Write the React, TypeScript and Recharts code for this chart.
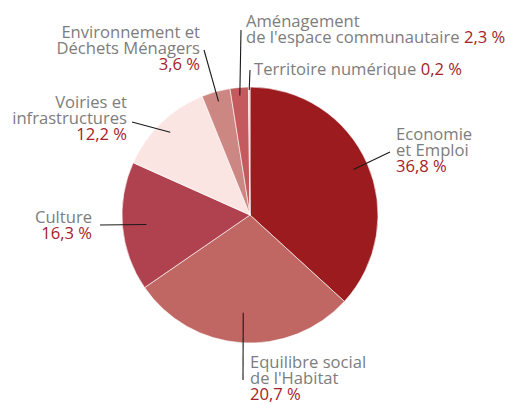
import { PieChart, Pie, Cell } from 'recharts'

// Drawn shares (the Habitat slice is drawn larger than its printed 20,7 %)
const sectors = [
  'Economie et Emploi',
  "Equilibre social de l'Habitat",
  'Culture',
  'Voiries et infrastructures',
  'Environnement et Déchets Ménagers',
  "Aménagement de l'espace communautaire",
  'Territoire numérique',
]
const shares = [36.8, 28.6, 16.3, 12.2, 3.6, 2.3, 0.2]
const pctLabels = ['36,8 %', '20,7 %', '16,3 %', '12,2 %', '3,6 %', '2,3 %', '0,2 %']
const nameLines = [
  ['Economie', 'et Emploi'],
  ['Equilibre social', "de l'Habitat"],
  ['Culture'],
  ['Voiries et', 'infrastructures'],
  ['Environnement et', 'Déchets Ménagers'],
  ['Aménagement', "de l'espace communautaire"],
  ['Territoire numérique'],
]

const colors = ['#9c1b1f', '#c06763', '#b0424f', '#fae5e3', '#cd8783', '#c45a5d', '#f2c4c4']

// label placement, relative to the pie centre
const layout = [
  { rIn: 113, end: [140, -63], tx: 146, ty: -75, anchor: 'start', inline: false },
  { rIn: 98, end: [-7, 165], tx: 0, ty: 153, anchor: 'start', inline: false },
  { rIn: 104, end: [-150, 10], tx: -158, ty: 8, anchor: 'end', inline: false },
  { rIn: 115, end: [-118, -93], tx: -123, ty: -107, anchor: 'end', inline: false },
  { rIn: 118, end: [-46, -165], tx: -50, ty: -177, anchor: 'end', inline: false },
  { rIn: 120, end: [-9, -185], tx: -4, ty: -188, anchor: 'start', inline: true },
  { rIn: 125, end: [0, -145], tx: 4, ty: -140, anchor: 'start', inline: true },
]

const data = sectors.map((name, i) => ({ name, value: shares[i] }))

const GRAY = '#7d7d7d'
const RED = '#a5222a'
const LINE_H = 16
const RAD = Math.PI / 180

function renderLabel(props: any) {
  const { cx, cy, midAngle, index } = props
  const l = layout[index]
  const sx = cx + l.rIn * Math.cos(-midAngle * RAD)
  const sy = cy + l.rIn * Math.sin(-midAngle * RAD)
  const lines = nameLines[index]
  return (
    <g key={`lbl-${index}`}>
      <line x1={sx} y1={sy} x2={cx + l.end[0]} y2={cy + l.end[1]} stroke="#1a1a1a" strokeWidth={1.1} />
      <text
        x={cx + l.tx}
        y={cy + l.ty}
        textAnchor={l.anchor}
        fontFamily="'Open Sans', sans-serif"
        fontSize={16.6}
        fill={GRAY}
      >
        {lines.map((s, j) => (
          <tspan key={j} x={cx + l.tx} dy={j === 0 ? 0 : LINE_H}>
            {s}
            {l.inline && j === lines.length - 1 ? <tspan fill={RED}>{' ' + pctLabels[index]}</tspan> : null}
          </tspan>
        ))}
        {!l.inline && (
          <tspan x={cx + l.tx} dy={LINE_H} fill={RED}>
            {pctLabels[index]}
          </tspan>
        )}
      </text>
    </g>
  )
}

export default function App() {
  return (
    <div style={{ position: 'absolute', left: 0, top: 0, width: 508, height: 403, background: '#fff' }}>
      <PieChart width={508} height={403} margin={{ top: 0, right: 0, bottom: 0, left: 0 }}>
        <Pie
          data={data}
          dataKey="value"
          cx={250}
          cy={215}
          outerRadius={128}
          startAngle={90}
          endAngle={-270}
          stroke="#fff"
          strokeWidth={0.6}
          label={renderLabel}
          labelLine={false}
          isAnimationActive={false}
        >
          {data.map((_, i) => (
            <Cell key={i} fill={colors[i]} />
          ))}
        </Pie>
      </PieChart>
    </div>
  )
}
